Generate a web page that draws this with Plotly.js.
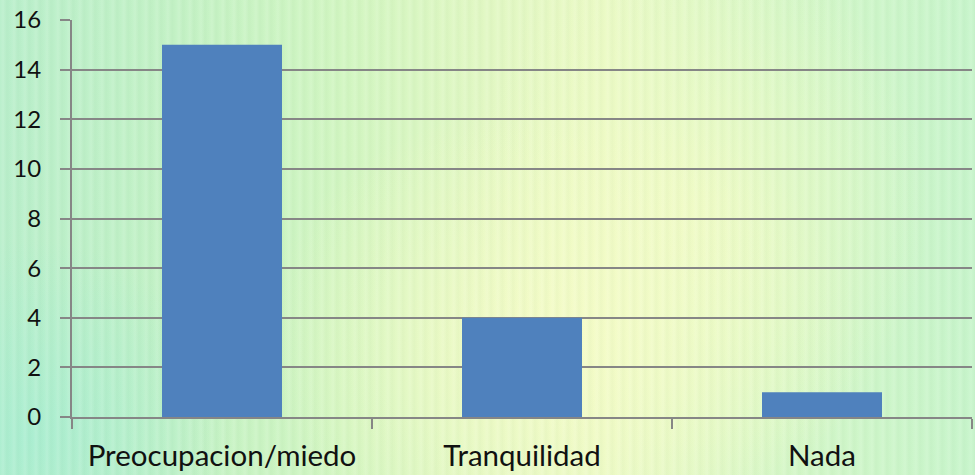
<!DOCTYPE html>
<html>
<head>
<meta charset="utf-8">
<script src="https://cdn.plot.ly/plotly-3.0.1.min.js"></script>
<style>
html,body{margin:0;padding:0;width:975px;height:475px;overflow:hidden;}
body{
  background:
    repeating-linear-gradient(90deg, rgba(255,255,255,0.00) 0px, rgba(255,255,255,0.10) 3px, rgba(0,80,0,0.025) 7px, rgba(255,255,255,0.00) 11px),
    radial-gradient(ellipse 300px 240px at 560px 340px, rgba(246,252,200,0.85), rgba(246,252,200,0) 100%),
    radial-gradient(ellipse 240px 280px at 690px 210px, rgba(242,252,198,0.8), rgba(242,252,198,0) 100%),
    radial-gradient(ellipse 200px 200px at 30px 440px, rgba(170,238,210,0.9), rgba(170,238,210,0) 100%),
    linear-gradient(90deg, #baefcc 0%, #c4f2c6 18%, #d2f6c2 35%, #e2f8c4 50%, #eafac6 62%, #d4f7c8 80%, #c8f5cc 100%);
}
#chart{width:975px;height:475px;}
</style>
</head>
<body>
<div id="chart"></div>
<script>
const categories = ["Preocupacion/miedo", "Tranquilidad", "Nada"];
const values = [15, 4, 1];
const yTickVals = [0, 2, 4, 6, 8, 10, 12, 14, 16];

const grey = "#868686";
const trace = {
  type: "bar",
  x: categories,
  y: values,
  width: 0.4,
  marker: {color: "#4f81bd"},
  hoverinfo: "none"
};

const layout = {
  width: 975,
  height: 475,
  margin: {l: 72, r: 3, t: 20, b: 57.5, pad: 0},
  paper_bgcolor: "rgba(0,0,0,0)",
  plot_bgcolor: "rgba(0,0,0,0)",
  showlegend: false,
  font: {family: "Lato, 'Open Sans', sans-serif", color: "#111111"},
  xaxis: {
    type: "category",
    range: [-0.5, 2.5],
    tickson: "boundaries",
    ticks: "outside",
    ticklen: 10,
    tickwidth: 2,
    tickcolor: grey,
    showline: true,
    linecolor: grey,
    linewidth: 2,
    showgrid: false,
    zeroline: false,
    tickfont: {size: 29.5, family: "Lato, sans-serif", color: "#111111"},
    ticklabelstandoff: 12
  },
  yaxis: {
    range: [0, 16],
    tickmode: "array",
    tickvals: yTickVals,
    ticktext: yTickVals.map(String),
    ticks: "outside",
    ticklen: 10,
    tickwidth: 2,
    tickcolor: grey,
    showline: true,
    linecolor: grey,
    linewidth: 2,
    showgrid: true,
    gridcolor: grey,
    gridwidth: 2,
    zeroline: false,
    tickfont: {size: 24, family: "Lato, sans-serif", color: "#111111"},
    ticklabelstandoff: 14
  }
};

Plotly.newPlot("chart", [trace], layout, {displayModeBar: false, staticPlot: true});
</script>
</body>
</html>
